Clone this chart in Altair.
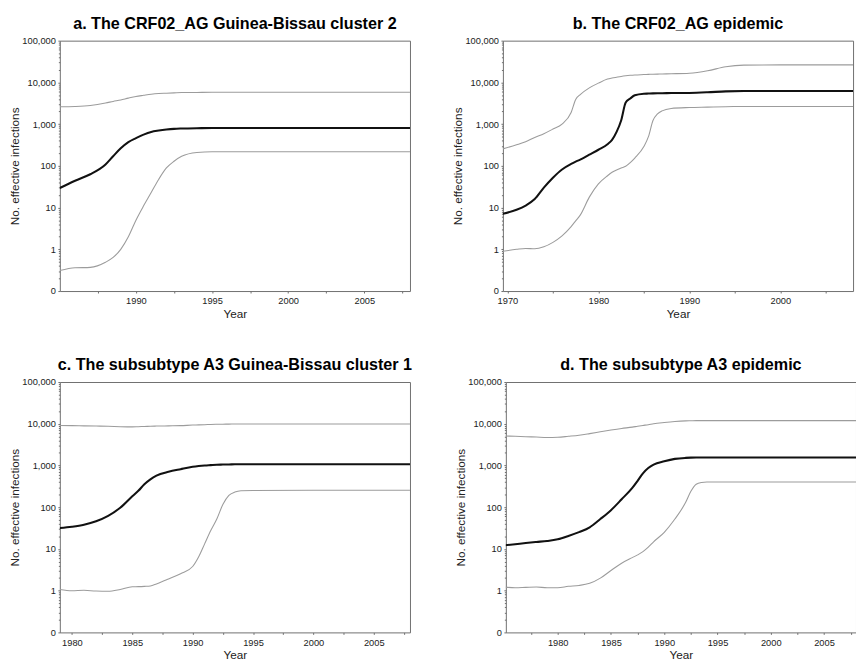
import altair as alt
import pandas as pd
import numpy as np

# ---------------- data ----------------
A_TITLE = "a. The CRF02_AG Guinea-Bissau cluster 2"
A_YEARS = [1985, 1986, 1987, 1988, 1988.5, 1989, 1989.5, 1990, 1990.5, 1991, 1991.5,
           1992, 1992.5, 1993, 1994, 1995, 1997, 2000, 2008]
A_UPPER = [2600, 2650, 2800, 3200, 3500, 3800, 4200, 4600, 4900, 5200, 5400,
           5500, 5600, 5700, 5750, 5800, 5800, 5800, 5800]
A_MEDIAN = [29.5, 44, 63, 108, 170, 263, 370, 460, 560, 650, 700,
            740, 770, 785, 800, 805, 805, 805, 805]
A_LOWER = [0.31, 0.36, 0.37, 0.49, 0.64, 1.0, 2.0, 5.0, 11, 23, 48,
           89, 129, 169, 209, 217, 217, 217, 217]

B_TITLE = "b. The CRF02_AG epidemic"
B_YEARS = [1969.5, 1971, 1972, 1973, 1974, 1975, 1976, 1977, 1977.5, 1978, 1979, 1980,
           1981, 1981.5, 1982, 1982.5, 1983, 1983.5, 1984, 1985, 1985.5, 1986, 1986.5,
           1987, 1988, 1990, 1992, 1994, 1996, 2000, 2008]
B_UPPER = [255, 320, 380, 480, 590, 760, 1000, 1900, 3900, 5100, 7400, 9600,
           12000, 12700, 13300, 13900, 14400, 14800, 15100, 15400, 15550, 15700, 15800,
           15900, 16100, 16600, 19000, 23700, 25900, 26300, 26300]
B_MEDIAN = [7.1, 8.9, 11.2, 16, 30, 52, 82, 111, 126, 141, 185, 243,
            330, 420, 650, 1220, 3300, 4100, 4900, 5350, 5400, 5450, 5480,
            5500, 5550, 5600, 5800, 6100, 6200, 6200, 6200]
B_LOWER = [0.9, 1.0, 1.05, 1.03, 1.15, 1.47, 2.1, 3.5, 4.8, 6.6, 17.8, 37,
           58, 70, 80, 89, 98, 120, 154, 290, 500, 1220, 1750,
           2080, 2370, 2500, 2560, 2620, 2640, 2640, 2640]

C_TITLE = "c. The subsubtype A3 Guinea-Bissau cluster 1"
C_YEARS = [1979, 1980, 1981, 1982, 1983, 1984, 1985, 1985.5, 1986, 1986.5, 1987, 1988,
           1989, 1990, 1990.5, 1991, 1991.5, 1992, 1992.5, 1993, 1993.5, 1994, 1995,
           2000, 2008]
C_UPPER = [9100, 9000, 8900, 8800, 8700, 8500, 8400, 8500, 8600, 8700, 8800, 8900,
           9000, 9300, 9400, 9500, 9600, 9700, 9750, 9800, 9850, 9900, 9900,
           9900, 9900]
C_MEDIAN = [31.6, 34, 38, 46, 62, 97, 183, 247, 355, 466, 570, 705,
            815, 930, 970, 1000, 1020, 1040, 1050, 1060, 1065, 1070, 1070,
            1070, 1070]
C_LOWER = [1.07, 1.0, 1.02, 0.98, 0.97, 1.07, 1.24, 1.25, 1.27, 1.3, 1.45, 1.9,
           2.55, 3.8, 6.5, 13.4, 27.5, 52, 116, 192, 230, 247, 252,
           255, 255]

D_TITLE = "d. The subsubtype A3 epidemic"
D_YEARS = [1975, 1976, 1977, 1978, 1979, 1980, 1981, 1982, 1983, 1984, 1985, 1986,
           1987, 1987.5, 1988, 1988.5, 1989, 1990, 1991, 1992, 1992.5, 1993, 1993.5,
           1994, 1995, 2000, 2008]
D_UPPER = [5100, 5000, 4900, 4800, 4700, 4750, 5000, 5300, 5800, 6400, 7050, 7700,
           8300, 8700, 9100, 9500, 10000, 10700, 11300, 11700, 11800, 11900, 11900,
           11900, 11900, 11900, 11900]
D_MEDIAN = [12.2, 13.0, 13.9, 14.7, 15.5, 17, 20.4, 25.3, 33, 52, 85, 155,
            290, 430, 650, 870, 1050, 1260, 1440, 1520, 1540, 1550, 1550,
            1550, 1550, 1550, 1550]
D_LOWER = [1.22, 1.18, 1.2, 1.22, 1.18, 1.18, 1.27, 1.33, 1.5, 2.0, 3.05, 4.55,
           6.2, 7.2, 8.6, 11, 14.8, 25, 52, 129, 240, 355, 390,
           400, 400, 400, 400]

Y_MAJOR = [0.1, 1, 10, 100, 1000, 10000, 100000]
Y_MINOR = [k * 10.0 ** e for e in range(-1, 5) for k in range(2, 10)]

FONT = "Liberation Sans"
AXIS_COLOR = "#6e6e6e"
TEXT_COLOR = "#222222"
PLOT_H = 256


def panel(title, years, lower, median, upper, xdom, width, tick_start, tick_step,
          label_step):
    n = len(years)
    df = pd.DataFrame({
        "Year": list(years) * 3,
        "value": list(lower) + list(median) + list(upper),
        "series": ["lower"] * n + ["median"] * n + ["upper"] * n,
    })
    xs = alt.Scale(domain=xdom, nice=False, zero=False)
    ys = alt.Scale(type="log", domain=[0.1, 100000], nice=False)
    ticks = [float(v) for v in np.arange(tick_start, xdom[1] + 1e-9, tick_step)]

    x_main = alt.X("Year:Q", scale=xs, axis=alt.Axis(
        values=ticks,
        labelExpr=f"datum.value % {label_step} == 0 ? format(datum.value, 'd') : ''",
        title="Year", tickSize=2, labelOverlap=False, labelFlush=False, grid=False,
        labelPadding=3, titlePadding=3.5))
    y_main = alt.Y("value:Q", scale=ys, axis=alt.Axis(
        values=Y_MAJOR,
        labelExpr="datum.value < 0.5 ? '0' : format(datum.value, ',')",
        title="No. effective infections", tickSize=2, grid=False,
        labelPadding=2.5, titlePadding=0.5))

    base = alt.Chart(df)
    bounds = base.transform_filter("datum.series != 'median'").mark_line(
        interpolate="monotone", clip=True, color="#9c9c9c", strokeWidth=1.1
    ).encode(x=x_main, y=y_main, detail="series:N")
    med = base.transform_filter("datum.series == 'median'").mark_line(
        interpolate="monotone", clip=True, color="#111111", strokeWidth=2.1
    ).encode(
        x=alt.X("Year:Q", scale=xs, axis=None),
        y=alt.Y("value:Q", scale=ys, axis=None),
    )
    frame = base.mark_line(opacity=0).encode(
        x=alt.X("Year:Q", scale=xs, axis=alt.Axis(
            orient="top", labels=False, ticks=False, title=None, grid=False,
            minExtent=0, maxExtent=0)),
        y=alt.Y("value:Q", scale=ys, axis=alt.Axis(
            orient="left", values=Y_MINOR, labels=False, ticks=True, tickSize=1.5,
            domain=False, title=None, grid=False, minExtent=0)),
        detail="series:N",
    )
    right = base.mark_line(opacity=0).encode(
        x=alt.X("Year:Q", scale=xs, axis=None),
        y=alt.Y("value:Q", scale=ys, axis=alt.Axis(
            orient="right", labels=False, ticks=False, title=None, grid=False,
            minExtent=0, maxExtent=0)),
        detail="series:N",
    )
    return alt.layer(bounds, med, frame, right).resolve_axis(
        x="independent", y="independent"
    ).properties(
        width=width, height=PLOT_H,
        title=alt.TitleParams(text=title, fontSize=16.5, fontWeight="bold", font=FONT,
                              anchor="middle", frame="group", offset=3.75, color="#000000"),
    )


pa = panel(A_TITLE, A_YEARS, A_LOWER, A_MEDIAN, A_UPPER, [1985, 2008], 358, 1987.5, 2.5, 5)
pb = panel(B_TITLE, B_YEARS, B_LOWER, B_MEDIAN, B_UPPER, [1969.5, 2008], 358, 1970, 5, 10)
pc = panel(C_TITLE, C_YEARS, C_LOWER, C_MEDIAN, C_UPPER, [1979, 2008], 358, 1980, 2.5, 5)
pd_ = panel(D_TITLE, D_YEARS, D_LOWER, D_MEDIAN, D_UPPER, [1975.13, 2008], 358, 1977.5, 2.5, 5)

chart = alt.vconcat(
    alt.hconcat(pa, pb, spacing=42),
    alt.hconcat(pc, pd_, spacing=42),
    spacing=38,
).properties(padding=0).configure_view(stroke=None).configure_axis(
    labelFont=FONT, titleFont=FONT, labelFontSize=9.5, titleFontSize=12,
    titleFontWeight="normal", labelColor=TEXT_COLOR, titleColor=TEXT_COLOR,
    domainColor=AXIS_COLOR, tickColor=AXIS_COLOR, domainWidth=1, tickWidth=1,
)

chart.save("out.html", embed_options={"renderer": "svg", "actions": False})
